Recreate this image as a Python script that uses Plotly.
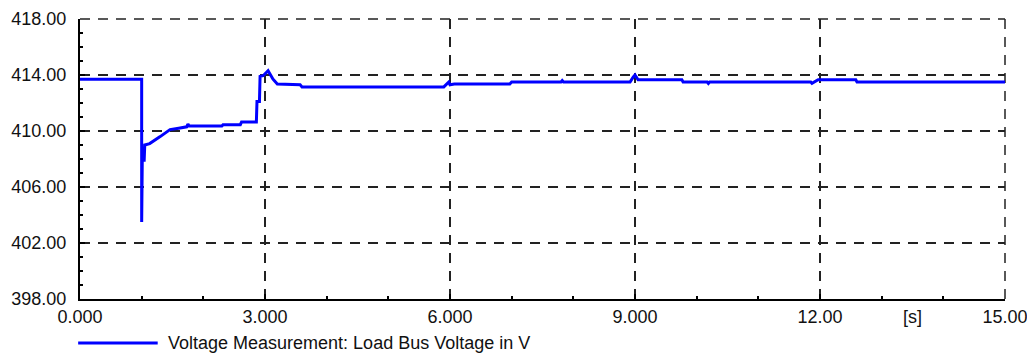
import plotly.graph_objects as go

# Data
time_s = [0.0, 1.0, 1.0, 1.01, 1.03, 1.04, 1.05, 1.13, 1.3, 1.46, 1.6, 1.73, 1.75, 1.77,
          2.3, 2.32, 2.6, 2.62, 2.86, 2.87, 2.91, 2.92, 2.97, 3.05, 3.13, 3.2, 3.57, 3.6,
          5.9, 5.95, 5.98, 6.0, 6.07, 6.97, 7.0, 7.8, 7.82, 7.84, 8.92, 8.97, 9.0, 9.05,
          9.76, 9.78, 10.17, 10.19, 10.21, 11.85, 11.87, 11.97, 12.58, 12.6, 15.0]
voltage_v = [413.7, 413.7, 403.5, 408.0, 408.8, 407.8, 409.0, 409.1, 409.6, 410.1, 410.2, 410.3, 410.5, 410.35,
             410.35, 410.45, 410.45, 410.65, 410.65, 412.1, 412.1, 413.9, 413.95, 414.3, 413.7, 413.35, 413.3, 413.15,
             413.15, 413.4, 413.5, 413.3, 413.35, 413.35, 413.5, 413.5, 413.6, 413.5, 413.5, 413.85, 414.0, 413.66,
             413.66, 413.5, 413.5, 413.4, 413.5, 413.5, 413.4, 413.66, 413.66, 413.5, 413.5]

x_tickvals = [0, 3, 6, 9, 12, 15]
x_ticktext = ["0.000", "3.000", "6.000", "9.000", "12.00", "15.00"]
y_tickvals = [398, 402, 406, 410, 414, 418]
y_ticktext = ["398.00", "402.00", "406.00", "410.00", "414.00", "418.00"]
series_name = "Voltage Measurement: Load Bus Voltage in V"
x_unit = "[s]"

font = dict(family="Liberation Sans, Arial, sans-serif", size=18, color="#111111")
grid_color = "#222222"
grid_dash = "10px,8px"

fig = go.Figure()
fig.add_trace(go.Scatter(x=time_s, y=voltage_v, mode="lines", name=series_name,
                         line=dict(color="#0000FF", width=3), showlegend=False))

axis_common = dict(
    showline=True, linecolor="black", linewidth=2,
    showgrid=True, gridcolor=grid_color, gridwidth=1.5, griddash=grid_dash,
    ticks="inside", ticklen=5, tickcolor="black", tickwidth=1.5,
    zeroline=False, tickfont=font, automargin=False, ticklabeloverflow="allow",
    minor=dict(ticks="inside", ticklen=3, tickcolor="black", showgrid=False),
)

fig.update_xaxes(range=[0, 15], tickvals=x_tickvals, ticktext=x_ticktext, **axis_common)
fig.update_yaxes(range=[398, 418], tickvals=y_tickvals, ticktext=y_ticktext,
                 ticklabelstandoff=8, **axis_common)

# Edge grid lines (plotly omits grid lines at the plot edges)
fig.add_shape(type="line", xref="x domain", yref="y domain", x0=0, x1=1, y0=1, y1=1,
              line=dict(color=grid_color, width=1.5, dash=grid_dash), layer="below")
fig.add_shape(type="line", xref="x domain", yref="y domain", x0=1, x1=1, y0=0, y1=1,
              line=dict(color=grid_color, width=1.5, dash=grid_dash), layer="below")

fig.add_annotation(x=13.5, y=0, xref="x", yref="paper", text=x_unit, showarrow=False,
                   yanchor="top", yshift=-6, font=font)

# Legend key drawn manually below the plot
fig.add_shape(type="line", xref="paper", yref="paper", x0=-0.002, x1=0.084, y0=-0.157, y1=-0.157,
              line=dict(color="#0000FF", width=3))
fig.add_annotation(x=0.0935, y=-0.157, xref="paper", yref="paper", text=series_name,
                   showarrow=False, xanchor="left", yanchor="middle", font=font)

fig.update_layout(
    width=1027, height=354,
    margin=dict(l=80, r=22, t=19, b=55),
    plot_bgcolor="white", paper_bgcolor="white",
    font=font,
    showlegend=False,
)

fig.write_html("out.html")
